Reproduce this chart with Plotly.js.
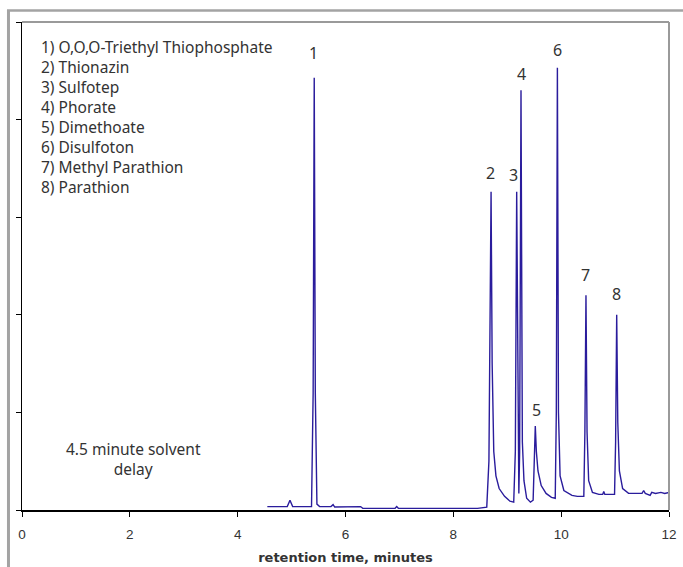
<!DOCTYPE html>
<html>
<head>
<meta charset="utf-8">
<script src="https://cdn.plot.ly/plotly-3.0.1.min.js"></script>
<style>
html,body{margin:0;padding:0;background:#fff;}
#chart{width:683px;height:567px;}
</style>
</head>
<body>
<div id="chart"></div>
<script>
// ---- data ----
const compounds = ["O,O,O-Triethyl Thiophosphate","Thionazin","Sulfotep","Phorate","Dimethoate","Disulfoton","Methyl Parathion","Parathion"];
const peakNumbers = ["1","2","3","4","5","6","7","8"];
const peakTimes = [5.42, 8.70, 9.175, 9.255, 9.52, 9.93, 10.46, 11.03];
const peakHeights = [4.43, 3.26, 3.26, 4.30, 0.86, 4.53, 2.20, 2.00];

const traceTime = [4.55,4.92,4.97,5.02,5.37,5.40,5.42,5.44,5.47,5.52,5.73,5.77,5.80,6.28,6.32,6.92,6.95,6.98,8.45,8.62,8.66,8.70,8.72,8.75,8.79,8.85,8.95,9.05,9.12,9.15,9.175,9.20,9.215,9.23,9.255,9.28,9.31,9.36,9.43,9.48,9.50,9.52,9.54,9.57,9.63,9.72,9.82,9.89,9.91,9.93,9.95,9.98,10.05,10.2,10.3,10.42,10.44,10.46,10.48,10.51,10.58,10.7,10.77,10.79,10.81,10.99,11.01,11.03,11.05,11.08,11.14,11.25,11.5,11.53,11.56,11.65,11.68,11.75,11.85,11.92,12.0];
const traceSignal = [0.035,0.035,0.10,0.035,0.035,1.2,4.43,1.2,0.06,0.035,0.035,0.055,0.03,0.035,0.017,0.017,0.035,0.017,0.017,0.03,0.5,3.26,1.5,0.6,0.35,0.22,0.14,0.09,0.08,0.6,3.26,0.6,0.17,0.6,4.30,0.7,0.3,0.12,0.08,0.1,0.5,0.86,0.6,0.4,0.25,0.17,0.13,0.12,1.0,4.53,1.0,0.35,0.2,0.15,0.14,0.14,0.8,2.20,0.8,0.3,0.18,0.16,0.16,0.19,0.16,0.16,0.7,2.0,0.9,0.4,0.22,0.17,0.17,0.2,0.17,0.15,0.18,0.17,0.18,0.17,0.18];

const xTickValues = [0,2,4,6,8,10,12];
const xTickLabels = ["0","2","4","6","8","10","12"];
const solventNote = "4.5 minute solvent<br>delay";
const xTitle = "retention time, minutes";

// ---- styles ----
const labelOffsets = [[-1,25],[-1,19],[-3,17],[0,16],[1,16],[0,18],[0,20],[0,21]];
const txtFont = {family:"Noto Sans, Open Sans, sans-serif", size:15.5, color:"#333"};

const annotations = [];
compounds.forEach((c,i)=>{
  annotations.push({xref:"paper",yref:"paper",x:0.0262,y:(510-(46.7+20*i))/488,
    xanchor:"left",yanchor:"middle",showarrow:false,text:(i+1)+") "+c,font:txtFont});
});
peakNumbers.forEach((n,i)=>{
  annotations.push({xref:"x",yref:"y",x:peakTimes[i],y:peakHeights[i],
    xanchor:"center",yanchor:"middle",xshift:labelOffsets[i][0],yshift:labelOffsets[i][1],
    showarrow:false,text:n,font:{family:"Noto Sans, sans-serif",size:16,color:"#333"}});
});
annotations.push({xref:"paper",yref:"paper",x:0.1716,y:0.1035,xanchor:"center",yanchor:"middle",
  align:"center",showarrow:false,text:solventNote,font:txtFont});

const shapes = [
  {type:"line",xref:"paper",yref:"paper",x0:-0.0209,x1:-0.0209,y0:1.0246,y1:-0.13,line:{color:"#a3a3a3",width:3}},
  {type:"line",xref:"paper",yref:"paper",x0:-0.0232,x1:1.05,y0:1.0235,y1:1.0235,line:{color:"#a3a3a3",width:2.5}},
  {type:"line",xref:"paper",yref:"paper",x0:0,x1:1,y0:1,y1:1,line:{color:"#9a9a9a",width:2}},
  {type:"line",xref:"paper",yref:"paper",x0:1,x1:1,y0:1,y1:0,line:{color:"#9a9a9a",width:2}}
];

const data = [{
  x: traceTime, y: traceSignal, type:"scatter", mode:"lines",
  line:{color:"#2a1c9c", width:1.4}, hoverinfo:"skip"
}];

const layout = {
  width:683, height:567,
  margin:{l:22,r:14,t:22,b:57},
  paper_bgcolor:"#fff", plot_bgcolor:"#fff",
  showlegend:false,
  xaxis:{range:[0,12], tickvals:xTickValues, ticktext:xTickLabels, ticks:"outside", ticklen:5, tickcolor:"#000",
    showline:true, linecolor:"#000", linewidth:1.5, showgrid:false, zeroline:false, ticklabelstandoff:6,
    tickfont:{family:"Liberation Sans, Arial, sans-serif", size:13.5, color:"#333"},
    title:{text:xTitle, standoff:12, font:{family:"DejaVu Sans, Verdana, sans-serif", size:13, color:"#333", weight:"bold"}}},
  yaxis:{range:[0,5], dtick:1, ticks:"outside", ticklen:5, tickcolor:"#000", showticklabels:false,
    showline:true, linecolor:"#000", linewidth:1.5, showgrid:false, zeroline:false},
  annotations: annotations,
  shapes: shapes
};
Plotly.newPlot("chart", data, layout, {staticPlot:true, displayModeBar:false});
</script>
</body>
</html>
